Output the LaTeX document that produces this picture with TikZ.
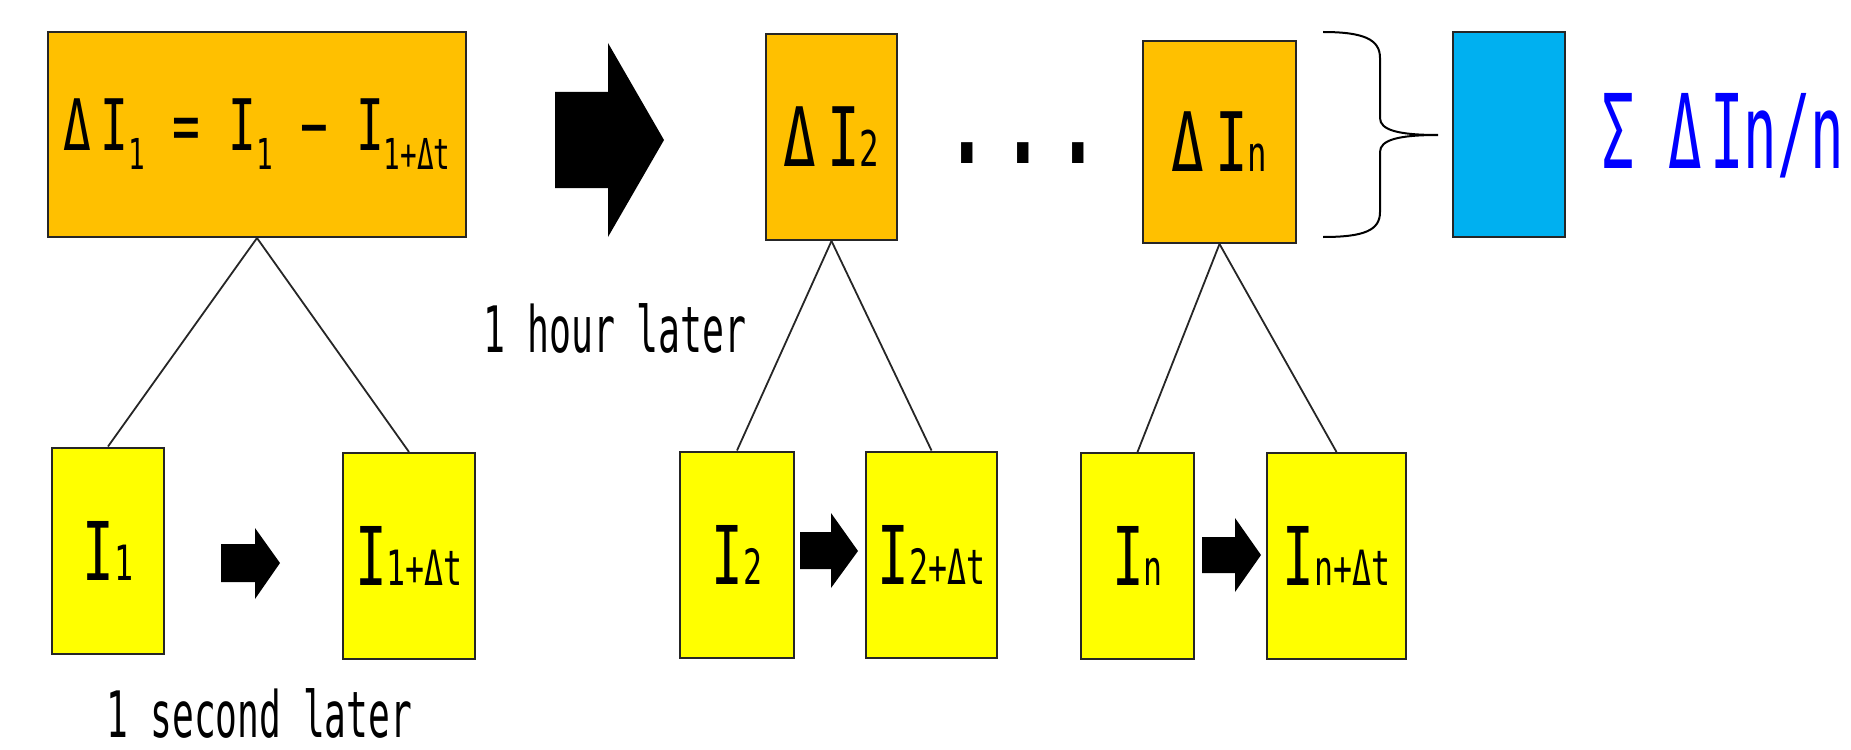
\documentclass[tikz,border=0pt]{standalone}
\usepackage{fontspec}
\usepackage{graphicx}
\setmainfont{DejaVu Sans Mono}
\definecolor{orangeC}{HTML}{FFC000}
\definecolor{yellowC}{HTML}{FFFF00}
\definecolor{blueBox}{HTML}{00B0F0}
\definecolor{blueTxt}{HTML}{0000FF}
\newcommand{\txt}[3]{{\fontsize{#1pt}{#1pt}\selectfont\scalebox{#2}[1]{#3}}}
\newcommand{\lo}[1]{\scalebox{0.6}{#1}}
\newcommand{\dn}[1]{\raisebox{-0.27em}{\scalebox{0.6}{#1}}}
\newcommand{\dgap}{\hspace{0.2em}}
\begin{document}
\begin{tikzpicture}[x=0.5pt,y=-0.5pt,
  box/.style={draw=black!85,line width=1pt,inner sep=0pt,text=black},
  obox/.style={box,fill=orangeC},
  ybox/.style={box,fill=yellowC,minimum height=103pt},
  link/.style={draw=black!85,line width=0.9pt},
  blk/.style={fill=black},
  lbl/.style={inner sep=0pt,anchor=base}]
\useasboundingbox (0,0) rectangle (1851,749);
% top row
\node[obox,minimum width=209pt,minimum height=102.5pt] (d1) at (257,134.5)
  {\txt{35.5}{0.65}{Δ\dgap I\dn{1} = I\dn{1} − I\dn{1+Δt}}};
\node[obox,minimum width=65.5pt,minimum height=103pt] (d2) at (831.5,137)
  {\txt{41}{0.66}{Δ\dgap I\lo{2}}};
\node[obox,minimum width=76.5pt,minimum height=101pt] (dn) at (1219.5,142)
  {\txt{41}{0.66}{Δ\dgap I\lo{n}}};
\node[box,fill=blueBox,minimum width=56pt,minimum height=102.5pt] (avg) at (1509,134.5) {};
\node[lbl,text=blueTxt] (res) at (1723,168) {\txt{51.5}{0.54}{Σ Δ\hspace{0.15em}In/n}};
\node[lbl] (dots) at (1023,163) {\txt{70}{0.66}{...}};
% bottom row
\node[ybox,minimum width=56pt] (i1) at (108,550.5) {\txt{40.5}{0.65}{I\lo{1}}};
\node[ybox,minimum width=66pt] (i1t) at (409,556) {\txt{40.5}{0.65}{I\lo{1+Δt}}};
\node[ybox,minimum width=57pt] (i2) at (737,554.5) {\txt{40.5}{0.65}{I\lo{2}}};
\node[ybox,minimum width=65.5pt] (i2t) at (931.5,554.5) {\txt{40.5}{0.65}{I\lo{2+Δt}}};
\node[ybox,minimum width=56.5pt] (in) at (1137.5,556) {\txt{40.5}{0.65}{I\lo{n}}};
\node[ybox,minimum width=69.5pt] (int) at (1336.5,556) {\txt{40.5}{0.65}{I\lo{n+Δt}}};
% labels
\node[lbl] (hour) at (615,352) {\txt{32}{0.57}{1 hour later}};
\node[lbl] (sec) at (259.5,737) {\txt{32}{0.566}{1 second later}};
% connectors
\draw[link] (d1.south) -- (i1.north);
\draw[link] (d1.south) -- (i1t.north);
\draw[link] (d2.south) -- (i2.north);
\draw[link] (d2.south) -- (i2t.north);
\draw[link] (dn.south) -- (in.north);
\draw[link] (dn.south) -- (int.north);
% block arrows
\fill[blk] (555,92) -- (608,92) -- (608,43) -- (664,140) -- (608,237) -- (608,188) -- (555,188) -- cycle;
\fill[blk] (221,544) -- (255,544) -- (255,528) -- (280,563) -- (255,599) -- (255,582) -- (221,582) -- cycle;
\fill[blk] (800,532) -- (831,532) -- (831,513) -- (858,551) -- (831,588) -- (831,569) -- (800,569) -- cycle;
\fill[blk] (1202,537) -- (1235,537) -- (1235,518) -- (1261,555) -- (1235,592) -- (1235,573) -- (1202,573) -- cycle;
% brace
\draw[line width=1pt] (1323,32) .. controls (1365,32) and (1380,40) .. (1380,58) -- (1380,118)
  .. controls (1380,130) and (1398,135) .. (1438,135)
  .. controls (1398,135) and (1380,140) .. (1380,152) -- (1380,212)
  .. controls (1380,230) and (1365,237) .. (1323,237);
\end{tikzpicture}
\end{document}
